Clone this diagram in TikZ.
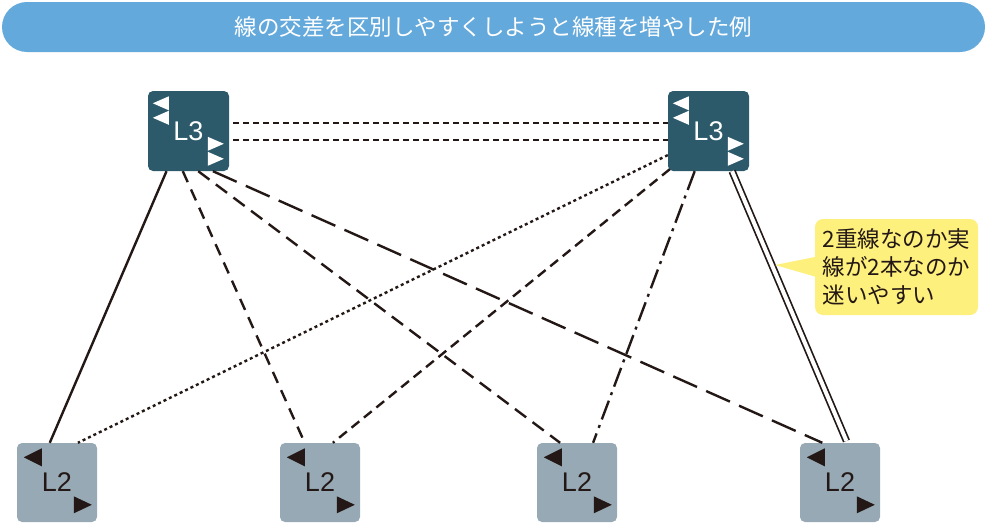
\documentclass[tikz,border=0pt]{standalone}
\usepackage{fontspec}
\setmainfont{Noto Sans CJK JP}
\newfontfamily\latinlab{Liberation Sans}
\usetikzlibrary{calc}
\definecolor{titlec}{HTML}{64A9DB}
\definecolor{l3c}{HTML}{2C5A6B}
\definecolor{l2c}{HTML}{96A9B4}
\definecolor{linec}{HTML}{231815}
\definecolor{notec}{HTML}{FEF07C}
\tikzset{
  l3box/.style={rectangle, rounded corners=5pt, fill=l3c, minimum width=81pt, minimum height=80pt, inner sep=0pt, text=white, font=\latinlab\fontsize{27}{27}\selectfont},
  l2box/.style={rectangle, rounded corners=5pt, fill=l2c, minimum width=80pt, minimum height=79pt, inner sep=0pt, text=linec, font=\latinlab\fontsize{27}{27}\selectfont},
  conn/.style={draw=linec, line width=2.4pt},
  shortdash/.style={conn, dash pattern=on 6pt off 4pt},
  meddash/.style={conn, dash pattern=on 12pt off 8pt},
  meddashb/.style={conn, dash pattern=on 10pt off 6pt},
  longdash/.style={conn, dash pattern=on 26pt off 10pt},
  dotline/.style={conn, dash pattern=on 3pt off 3pt},
  dashdotline/.style={conn, dash pattern=on 20pt off 6pt on 3pt off 6pt},
  dblline/.style={draw=linec, line width=1.7pt, double=white, double distance=4pt},
}
\begin{document}
\begin{tikzpicture}[x=1pt,y=-1pt]
\useasboundingbox (0,0) rectangle (1000,525);
% title
\node[fill=titlec, rounded corners=25pt, minimum width=983pt, minimum height=50pt, inner sep=0pt,
  text=white, font=\fontsize{22.5}{22.5}\selectfont] (title) at (493.5,27) {線の交差を区別しやすくしようと線種を増やした例};

% L3 boxes
\node[l3box] (l3a) at (188.5,131) {L3};
\node[l3box] (l3b) at (708.5,131) {L3};
% L2 boxes
\node[l2box] (l2a) at (57,482.5) {L2};
\node[l2box] (l2b) at (320,482.5) {L2};
\node[l2box] (l2c) at (577,482.5) {L2};
\node[l2box] (l2d) at (840,482.5) {L2};

% triangles on L3
\foreach \b in {l3a,l3b}{
  \begin{scope}[shift={(\b.north west)}]
    \fill[white] (5,12.5) -- (21,5.5) -- (21,19.5) -- cycle;
    \fill[white] (5,27) -- (21,20) -- (21,34) -- cycle;
    \fill[white] (76,53) -- (60,46) -- (60,60) -- cycle;
    \fill[white] (76,68) -- (60,61) -- (60,75) -- cycle;
  \end{scope}
}
% triangles on L2
\foreach \b in {l2a,l2b,l2c,l2d}{
  \begin{scope}[shift={(\b.north west)}]
    \fill[linec] (7,14.5) -- (25,5.5) -- (25,23.5) -- cycle;
    \fill[linec] (75,62) -- (57,53.5) -- (57,70.5) -- cycle;
  \end{scope}
}

% coordinates on L3 left
\coordinate (a1) at ($(l3a.south west)!0.23!(l3a.south east)$);
\coordinate (a2) at ($(l3a.south west)!0.43!(l3a.south east)$);
\coordinate (a3) at ($(l3a.south west)!0.62!(l3a.south east)$);
\coordinate (a4) at ($(l3a.south west)!0.80!(l3a.south east)$);
% coordinates on L3 right
\coordinate (b1) at ($(l3b.north west)!0.80!(l3b.south west)$);
\coordinate (b2) at ($(l3b.south west)+(2,-2)$);
\coordinate (b3) at ($(l3b.south west)!0.33!(l3b.south east)$);
\coordinate (b4) at ($(l3b.south west)!0.79!(l3b.south east)$);
% coordinates on L2 tops
\coordinate (c1) at ($(l2a.north west)!0.41!(l2a.north east)$);
\coordinate (c2) at ($(l2a.north west)!0.76!(l2a.north east)$);
\coordinate (d1) at ($(l2b.north west)!0.31!(l2b.north east)$);
\coordinate (d2) at ($(l2b.north west)!0.66!(l2b.north east)$);
\coordinate (e1) at ($(l2c.north west)!0.29!(l2c.north east)$);
\coordinate (e2) at ($(l2c.north west)!0.70!(l2c.north east)$);
\coordinate (f1) at ($(l2d.north west)!0.28!(l2d.north east)$);
\coordinate (f2) at ($(l2d.north west)!0.59!(l2d.north east)$);

% horizontal links
\draw[shortdash] ($(l3a.north east)+(4,32)$) -- ($(l3b.north west)+(0,32)$);
\draw[shortdash] ($(l3a.north east)+(4,49)$) -- ($(l3b.north west)+(0,49)$);

% connectors from L3 left
\draw[conn] (a1) -- (c1);
\draw[meddash] (a2) -- (d1);
\draw[meddash, dash pattern=on 14pt off 8pt] (a3) -- (e1);
\draw[longdash] (a4) -- (f1);
% connectors from L3 right
\draw[dotline] (b1) -- (c2);
\draw[meddashb] (b2) -- (d2);
\draw[dashdotline] (b3) -- (e2);
\draw[dblline, shorten >=2pt] (b4) -- (f2);

% callout
\node[fill=notec, rounded corners=8pt, minimum width=163pt, minimum height=96pt, inner sep=0pt,
  text=linec, font=\fontsize{22.5}{28}\selectfont, align=left] (note) at (896.5,267)
  {2重線なのか実\\線が2本なのか\\迷いやすい};
\coordinate (ptip) at (775,265);
\fill[notec] (ptip) -- ($(note.north west)+(1,38)$) -- ($(note.north west)+(1,58)$) -- cycle;
\end{tikzpicture}
\end{document}
